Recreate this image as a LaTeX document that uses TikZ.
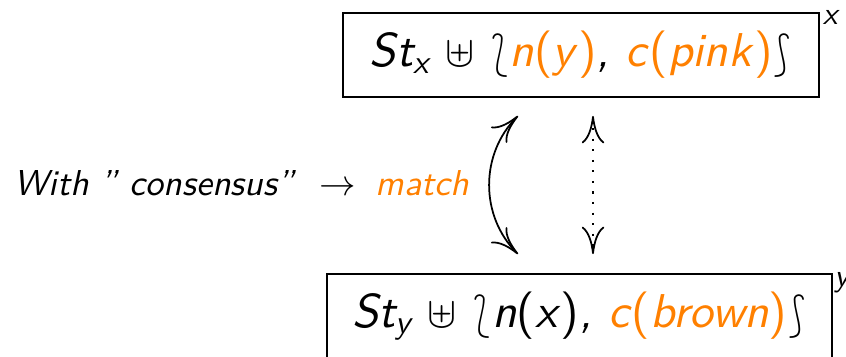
\documentclass[tikz,border=0pt]{standalone}
\usepackage{amsmath}
\usepackage{stmaryrd}
\usepackage{fontspec}
\setsansfont{lmsans10-regular.otf}[ItalicFont=lmsans10-oblique.otf, BoldFont=lmsans10-bold.otf]
\usetikzlibrary{arrows.meta,positioning}
\definecolor{matchorange}{RGB}{255,128,0}
\newcommand{\hl}[1]{\textcolor{matchorange}{#1}}
\newcommand{\fn}[2]{#1\textup{(}#2\textup{)}}
\tikzset{
	statebox/.style={draw, line width=1pt, minimum height=1.68cm, inner sep=0pt, font=\fontsize{27}{32}\selectfont\sffamily\itshape},
	tagtext/.style={inner sep=0pt, font=\fontsize{18}{21}\selectfont\sffamily\itshape},
	notetext/.style={inner sep=0pt, font=\fontsize{20.5}{24}\selectfont\sffamily\itshape}
}
\begin{document}
\begin{tikzpicture}[line width=1pt, >={Computer Modern Rightarrow[length=5.5mm,width=4.5mm]}]
			\useasboundingbox (0,0) rectangle (16.92,7.14);
			\node[statebox, minimum width=9.52cm] (topbox) at (11.62,6.04) {St\textsubscript{x} $\uplus$ $\lbag$\hl{\fn{n}{y}}, \hl{\fn{c}{pink}}$\rbag$};
			\node[statebox, minimum width=10.1cm] (botbox) at (11.59,0.82) {St\textsubscript{y} $\uplus$ $\lbag$\fn{n}{x}, \hl{\fn{c}{brown}}$\rbag$};
			\node[tagtext, anchor=base west] (topsup) at ([xshift=0.04cm,yshift=-0.25cm]topbox.north east) {x};
			\node[tagtext, anchor=base west] (botsup) at ([xshift=0.01cm,yshift=-0.26cm]botbox.north east) {y};
			\node[notetext, anchor=base east] (consensus) at (9.40,3.22) {With '' consensus''\hspace{0.5cm}$\rightarrow$\hspace{0.4cm}\hl{match}};
			\draw[<->] ([xshift=-1.26cm,yshift=-0.36cm]topbox.south) to[bend right=45] ([xshift=-1.23cm,yshift=0.38cm]botbox.north);
			\draw[<->, dash pattern=on 1.2pt off 4.8pt] ([xshift=0.24cm,yshift=-0.36cm]topbox.south) -- ([xshift=0.27cm,yshift=0.38cm]botbox.north);
			
		\end{tikzpicture}
\end{document}
